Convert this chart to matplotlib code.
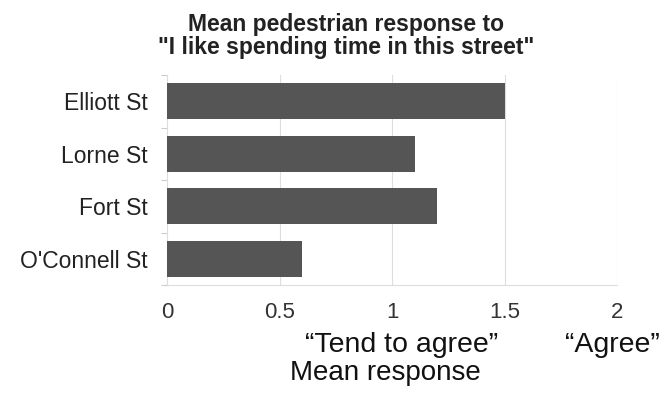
import numpy as np
import matplotlib
matplotlib.use("Agg")
import matplotlib.pyplot as plt

plt.rcParams['font.family'] = ['Liberation Sans', 'DejaVu Sans']

streets = ["Elliott St", "Lorne St", "Fort St", "O'Connell St"]
mean_resp = [1.5, 1.1, 1.2, 0.6]
xticks = [0, 0.5, 1, 1.5, 2]
xticklabels = ["0", "0.5", "1", "1.5", "2"]

W, H = 662, 394
fig = plt.figure(figsize=(W / 100, H / 100), dpi=100)
ax = fig.add_axes([167 / W, 1 - 285 / H, 450 / W, 210 / H])

pos = np.arange(len(streets))
ax.barh(pos, mean_resp, height=0.69, color="#555555", zorder=3)
ax.set_ylim(len(streets) - 0.5, -0.5)
ax.set_xlim(0, 2)

ax.set_yticks(pos)
ax.set_yticklabels(streets, fontsize=16.5, color="#222222")
ax.set_yticks(np.arange(len(streets) + 1) - 0.5, minor=True)
ax.tick_params(axis="y", which="major", length=0, pad=14)
ax.tick_params(axis="y", which="minor", length=4, color="#cccccc", width=0.8)

ax.set_xticks(xticks)
ax.set_xticklabels(xticklabels, fontsize=16, color="#333333")
ax.tick_params(axis="x", length=0, pad=12)
ax.grid(axis="x", color="#dddddd", linewidth=0.8, zorder=0)

for s in ["top", "right"]:
    ax.spines[s].set_visible(False)
ax.spines["left"].set_color("#dddddd")
ax.spines["bottom"].set_color("#dddddd")

fig.text(346 / W, 1 - 36 / H,
         "Mean pedestrian response to\n\"I like spending time in this street\"",
         ha="center", va="center", fontsize=16.5, fontweight="bold",
         color="#222222", linespacing=1.05)

# agreement scale labels under the axis
fig.text(402 / W, 1 - 345 / H, "\u201cTend to agree\u201d",
         ha="center", va="center", fontsize=20.5, color="#111111")
fig.text(612 / W, 1 - 345 / H, "\u201cAgree\u201d",
         ha="center", va="center", fontsize=20.5, color="#111111")
fig.text(385 / W, 1 - 373 / H, "Mean response",
         ha="center", va="center", fontsize=20, color="#111111")

fig.savefig("out.png", dpi=100)
